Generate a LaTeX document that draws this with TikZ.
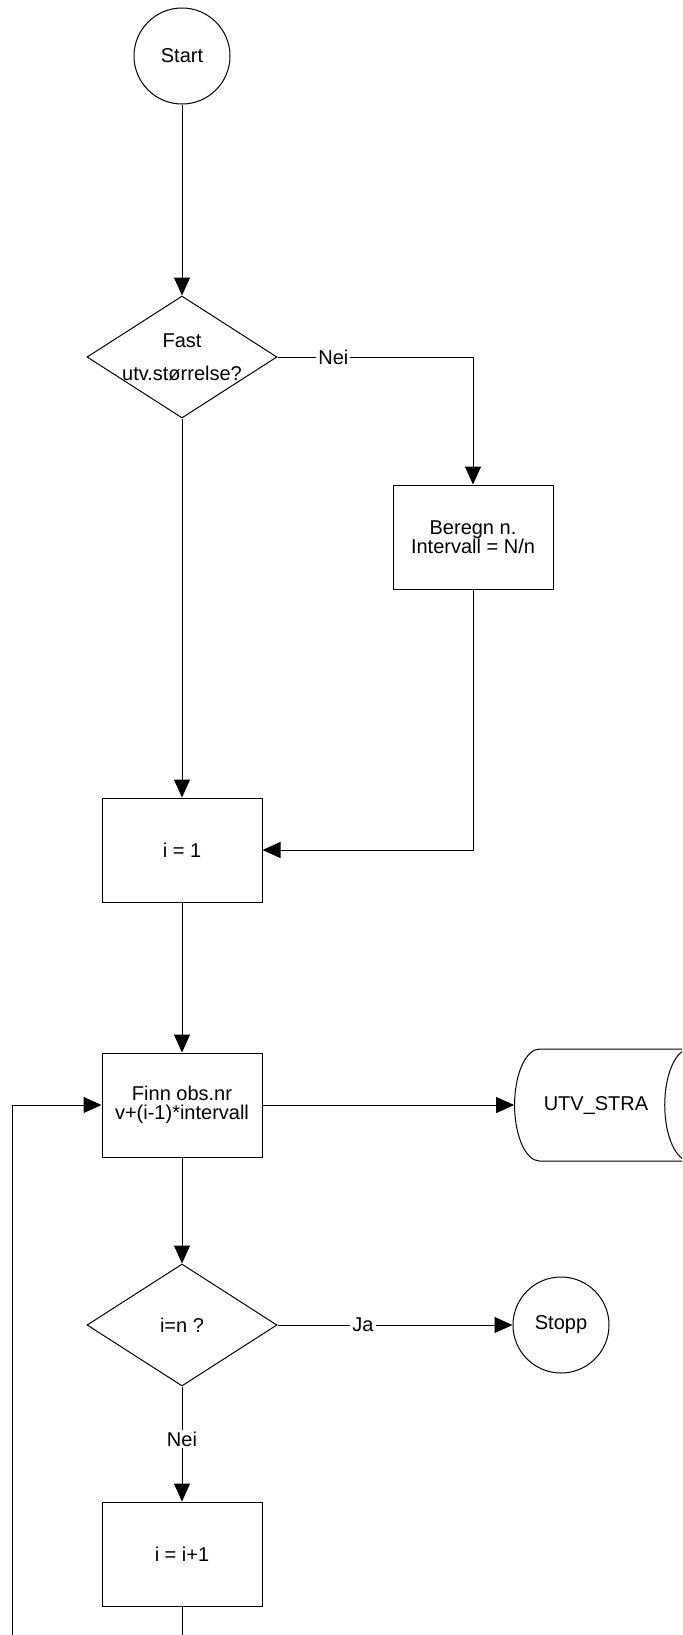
\documentclass[tikz,border=0pt]{standalone}
\usepackage{fontspec}
\setmainfont{Liberation Sans}
\usepackage{tikz}
\usetikzlibrary{shapes.geometric, arrows.meta, positioning}
\tikzstyle{startstop} = [circle, 
minimum size=48pt, 
text centered, 
draw=black]
\tikzstyle{coord} = [
coordinate, 
node distance=2cm
]
\tikzstyle{storage} = [cylinder, 
shape border rotate=0, 
aspect=1.6, 
minimum width=56pt, 
minimum height=94pt, 
inner xsep=8pt, 
text centered, 
draw=black]
\tikzstyle{process} = [rectangle, 
minimum width=80pt, 
minimum height=52pt, 
align=center, 
draw=black]
\tikzstyle{decision} = [diamond, 
minimum width=95pt, 
minimum height=61pt, 
inner sep=-6pt, 
align=center, 
draw=black]
\tikzstyle{lbl} = [fill=white, inner sep=1pt, anchor=center]
\tikzstyle{arrow} = [-{Triangle[length=9pt,width=8pt]}]

\begin{document}
\begin{tikzpicture}[x=0.5pt, y=-0.5pt, node distance=2cm, line width=0.5pt,
  every node/.style={font=\fontsize{10}{9.5}\selectfont}]
		\useasboundingbox (0,0) rectangle (682,1635);
		\clip (0,0) rectangle (682,1635);
		\node (start) [startstop] at (182,56) {Start};
		\node (dec1) [decision, below of=start, node distance=150.5pt] {Fast\\[7pt]utv.størrelse?};
		\node (pro1) [process, right of=dec1, node distance=145.5pt, yshift=-90pt] {Beregn n.\\Intervall = N/n};
		\node (pro2) [process, below of=dec1, node distance=246.5pt] {i = 1};
		\node (pro3) [process, below of=pro2, node distance=127.5pt] {Finn obs.nr\\v+(i-1)*intervall};
		\node (store) [storage, right of=pro3, node distance=207pt] {UTV\_STRA};
		\node (dec2) [decision, below of=pro3, node distance=110pt] {i=n ?};
		\node (stop) [startstop, right of=dec2, node distance=189.5pt] {Stopp};
		\node (pro4) [process, below of=dec2, node distance=114.5pt] {i = i+1};
	
		\draw [arrow] (start) -- (dec1);
		\draw [arrow] (dec1) -| node[lbl, pos=0.143] {Nei} (pro1);
		\draw [arrow] (dec1) -- (pro2);
		\draw [arrow] (pro1) |- (pro2);
		\draw [arrow] (pro2) -- (pro3);
		\draw [arrow] (pro3) -- (store);
		\draw [arrow] (pro3) -- (dec2);
		\draw [arrow] (dec2) -- node[lbl, pos=0.364] {Ja} (stop);
		\draw [arrow] (dec2) -- node[lbl, pos=0.457] {Nei} (pro4);
	
		\node (c1) [coord, below of=pro4, node distance=60pt] {};
		\node (c2) [coord, left of=c1, node distance=85pt] {};
		\draw [arrow] (pro4) -- (c1) -- (c2) |- (pro3);
	\end{tikzpicture}
\end{document}
